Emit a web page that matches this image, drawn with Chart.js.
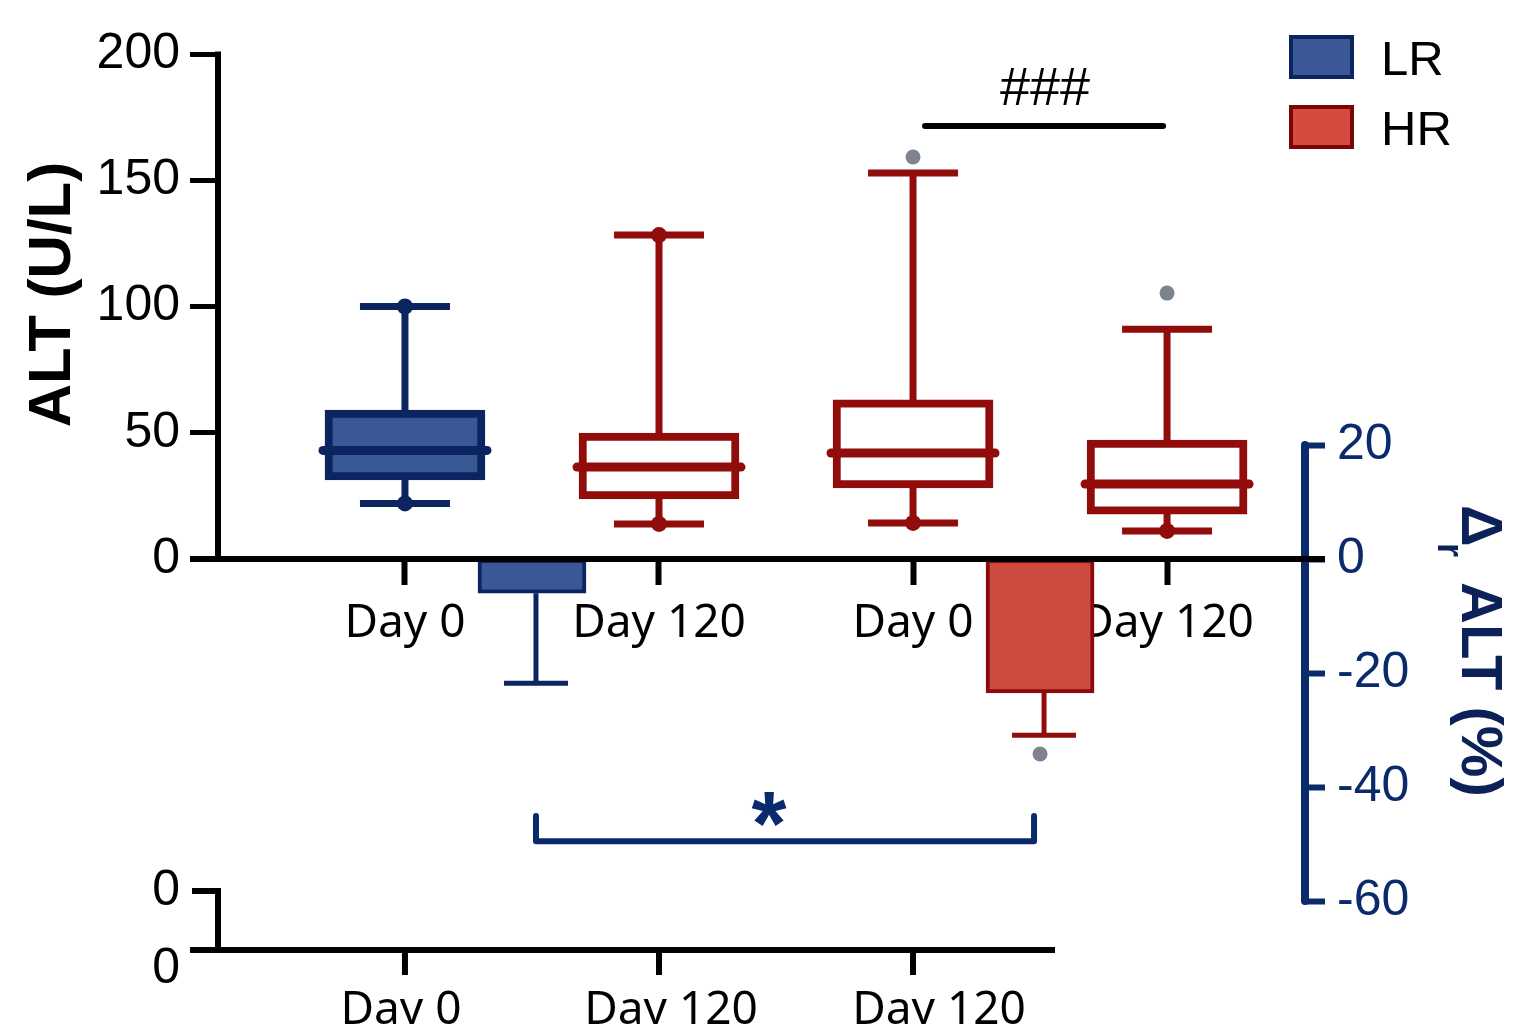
<!DOCTYPE html>
<html>
<head>
<meta charset="utf-8">
<title>ALT</title>
<script src="https://cdn.jsdelivr.net/npm/chart.js@4.4.1/dist/chart.umd.min.js"></script>
<style>
    html, body { margin: 0; padding: 0; background: #ffffff; }
    #wrap { width: 1536px; height: 1024px; }
</style>
</head>
<body>
<div id="wrap"><canvas id="alt-chart" width="1536" height="1024"></canvas></div>
<script>
// Kategori sumbu x dan kelompok tiap kotak
const dayLabels = ['Day 0', 'Day 120', 'Day 0', 'Day 120'];
const boxGroups = ['LR', 'HR', 'HR', 'HR'];

// Box plot ALT (U/L)
const boxQ1 = [31.3, 23.8, 28.1, 17.8];
const boxQ3 = [59, 49.9, 63, 47.1];
const boxMedian = [43, 36.4, 42, 29.7];
const whiskerLow = [22, 13.9, 14.3, 11.1];
const whiskerHigh = [100, 128.3, 152.9, 91];
const outlierIndex = [2, 3];
const outlierValues = [159.2, 105.3];

// Perubahan relatif ALT (%)
const deltaGroups = ['LR', 'HR'];
const deltaSlot = [0, 2];          // kotak Day 0 dari kelompoknya
const deltaMean = [-6, -23.5];
const deltaErrLow = [-21.8, -30.9];
const deltaOutlier = [-34.2];      // hanya HR

// Label tick
const leftTicks = [0, 50, 100, 150, 200];
const rightTicks = [20, 0, -20, -40, -60];
const legendLabels = ['LR', 'HR'];
const ghostYLabels = ['0', '0'];
const ghostXLabels = ['Day 0', 'Day 120', 'Day 120'];

// Tanda signifikansi
const hashLevel = 171.5;     // di sumbu kiri
const starLevel = -49.5;     // di sumbu kanan
const starTop = -45.1;

const C = {
    navy: '#0c2460',
    axisNavy: '#0b2a6b',
    lrFill: '#3a5796',
    red: '#900d0b',
    hrFill: '#cd4a41',
    legendRed: '#d64a40',
    gray: '#7e848d',
    black: '#000000'
};

const NUM_FONT = '"Liberation Sans", Arial, sans-serif';
const DAY_FONT = '"Noto Sans", "Liberation Sans", sans-serif';

function line(ctx, x1, y1, x2, y2) {
    ctx.beginPath();
    ctx.moveTo(x1, y1);
    ctx.lineTo(x2, y2);
    ctx.stroke();
}

function dot(ctx, x, y, r) {
    ctx.beginPath();
    ctx.arc(x, y, r, 0, Math.PI * 2);
    ctx.fill();
}

// Plugin untuk whisker, median, garis sumbu dan teks
const boxExtras = {
    id: 'boxExtras',
    beforeDatasetsDraw(chart) {
        const { ctx, scales: { x, yL, yR } } = chart;
        ctx.save();
        ctx.lineCap = 'butt';
        dayLabels.forEach((_, i) => {
            const cx = x.getPixelForValue(i);
            ctx.strokeStyle = boxGroups[i] === 'LR' ? C.navy : C.red;
            ctx.lineWidth = 7;
            line(ctx, cx, yL.getPixelForValue(whiskerLow[i]), cx, yL.getPixelForValue(whiskerHigh[i]));
            [whiskerLow[i], whiskerHigh[i]].forEach(v => {
                const py = yL.getPixelForValue(v);
                line(ctx, cx - 45, py, cx + 45, py);
            });
        });
        deltaMean.forEach((m, k) => {
            const cx = x.getPixelForValue(deltaSlot[k] + 0.5) + 4;
            ctx.strokeStyle = deltaGroups[k] === 'LR' ? C.navy : C.red;
            ctx.lineWidth = 5;
            const pe = yR.getPixelForValue(deltaErrLow[k]);
            line(ctx, cx, yR.getPixelForValue(m), cx, pe);
            line(ctx, cx - 32, pe, cx + 32, pe);
        });
        ctx.restore();
    },
    afterDatasetsDraw(chart) {
        const { ctx, chartArea: area, scales: { x, yL, yR } } = chart;
        ctx.save();

        // median dan titik ujung whisker
        dayLabels.forEach((_, i) => {
            const cx = x.getPixelForValue(i);
            const col = boxGroups[i] === 'LR' ? C.navy : C.red;
            const pm = yL.getPixelForValue(boxMedian[i]);
            ctx.strokeStyle = col;
            ctx.fillStyle = col;
            ctx.lineWidth = 9;
            ctx.lineCap = 'round';
            line(ctx, cx - 82, pm, cx + 82, pm);
            dot(ctx, cx, yL.getPixelForValue(whiskerLow[i]), 8);
            if (!outlierIndex.includes(i)) {
                dot(ctx, cx, yL.getPixelForValue(whiskerHigh[i]), 8);
            }
        });

        // sumbu kanan
        ctx.strokeStyle = C.axisNavy;
        ctx.lineWidth = 8;
        ctx.lineCap = 'round';
        line(ctx, area.right, yR.getPixelForValue(rightTicks[0]), area.right, yR.getPixelForValue(rightTicks[rightTicks.length - 1]));

        // sumbu x dan sumbu kiri
        const y0 = yL.getPixelForValue(0);
        ctx.strokeStyle = C.black;
        ctx.lineWidth = 6;
        ctx.lineCap = 'butt';
        line(ctx, area.left - 28, y0, area.right + 20, y0);
        line(ctx, area.left, yL.getPixelForValue(200) - 2.5, area.left, y0);

        // judul sumbu kiri
        ctx.save();
        ctx.translate(70, (yL.getPixelForValue(0) + yL.getPixelForValue(200)) / 2 - 12);
        ctx.rotate(-Math.PI / 2);
        ctx.font = 'bold 60px ' + NUM_FONT;
        ctx.textAlign = 'center';
        ctx.textBaseline = 'alphabetic';
        ctx.fillStyle = C.black;
        ctx.fillText('ALT (U/L)', 0, 0);
        ctx.restore();

        // judul sumbu kanan
        ctx.save();
        ctx.translate(1462, 505);
        ctx.rotate(Math.PI / 2);
        ctx.fillStyle = '#0c2157';
        ctx.textAlign = 'left';
        ctx.textBaseline = 'alphabetic';
        ctx.font = 'bold 58px ' + NUM_FONT;
        ctx.fillText('Δ', 0, 0);
        ctx.font = 'bold 36px ' + NUM_FONT;
        ctx.fillText('r', 38, 24);
        ctx.font = 'bold 58px ' + NUM_FONT;
        ctx.fillText('ALT (%)', 77, 0);
        ctx.restore();

        // legenda
        legendLabels.forEach((lab, k) => {
            const ly = 37 + k * 70;
            ctx.fillStyle = lab === 'LR' ? C.lrFill : C.legendRed;
            ctx.strokeStyle = lab === 'LR' ? C.navy : '#7a0606';
            ctx.lineWidth = 4;
            ctx.fillRect(1291, ly, 61, 40);
            ctx.strokeRect(1291, ly, 61, 40);
            ctx.fillStyle = C.black;
            ctx.font = '49px ' + NUM_FONT;
            ctx.textAlign = 'left';
            ctx.textBaseline = 'alphabetic';
            ctx.fillText(lab, 1381, ly + 38);
        });

        // ### antara HR Day 0 dan Day 120
        const hy = yL.getPixelForValue(hashLevel);
        ctx.strokeStyle = C.black;
        ctx.lineWidth = 6;
        ctx.lineCap = 'round';
        line(ctx, x.getPixelForValue(2) + 12, hy, x.getPixelForValue(3) - 4, hy);
        ctx.fillStyle = C.black;
        ctx.font = '54px ' + NUM_FONT;
        ctx.textAlign = 'center';
        ctx.fillText('###', (x.getPixelForValue(2) + x.getPixelForValue(3)) / 2 + 5, hy - 21);

        // bracket * antara LR dan HR
        const bx1 = x.getPixelForValue(deltaSlot[0] + 0.5) + 4;
        const bx2 = x.getPixelForValue(deltaSlot[1] + 0.5) - 6;
        const by = yR.getPixelForValue(starLevel);
        const bt = yR.getPixelForValue(starTop);
        ctx.strokeStyle = C.axisNavy;
        ctx.lineWidth = 6;
        ctx.lineJoin = 'round';
        ctx.beginPath();
        ctx.moveTo(bx1, bt);
        ctx.lineTo(bx1, by);
        ctx.lineTo(bx2, by);
        ctx.lineTo(bx2, bt);
        ctx.stroke();
        ctx.fillStyle = C.axisNavy;
        ctx.font = 'bold 90px ' + NUM_FONT;
        ctx.fillText('*', (bx1 + bx2) / 2 - 16, by + 14);

        // sumbu bayangan di bawah
        const gTop = 891, gBase = 950;
        ctx.strokeStyle = C.black;
        ctx.lineWidth = 6;
        ctx.lineCap = 'butt';
        line(ctx, area.left, gTop - 3, area.left, gBase);
        line(ctx, area.left - 26, gTop, area.left, gTop);
        line(ctx, area.left - 28, gBase, 1055, gBase);
        ctx.fillStyle = C.black;
        ctx.font = '50px ' + NUM_FONT;
        ctx.textAlign = 'right';
        ctx.textBaseline = 'middle';
        ctx.fillText(ghostYLabels[0], 180, gTop);
        ctx.fillText(ghostYLabels[1], 180, 969);
        ctx.font = '46px ' + DAY_FONT;
        ctx.textAlign = 'center';
        ctx.textBaseline = 'alphabetic';
        ghostXLabels.forEach((lab, i) => {
            const gx = x.getPixelForValue(i);
            line(ctx, gx, gBase, gx, 975);
            ctx.fillText(lab, gx + [-4, 12, 26][i], 1024);
        });

        ctx.restore();
    }
};

document.addEventListener('DOMContentLoaded', function() {
    const ctx = document.getElementById('alt-chart').getContext('2d');

    new Chart(ctx, {
        type: 'bar',
        data: {
            datasets: [
                {
                    label: 'ALT',
                    data: dayLabels.map((_, i) => ({ x: i, y: [boxQ1[i], boxQ3[i]] })),
                    xAxisID: 'x',
                    yAxisID: 'yL',
                    grouped: false,
                    barThickness: 160,
                    backgroundColor: boxGroups.map(g => g === 'LR' ? C.lrFill : '#ffffff'),
                    borderColor: boxGroups.map(g => g === 'LR' ? C.navy : C.red),
                    borderWidth: 8,
                    borderSkipped: false,
                    order: 2
                },
                {
                    label: 'Delta ALT',
                    data: deltaMean.map((m, k) => ({ x: deltaSlot[k] + 0.5, y: m })),
                    xAxisID: 'x',
                    yAxisID: 'yR',
                    grouped: false,
                    barThickness: 108,
                    backgroundColor: deltaGroups.map(g => g === 'LR' ? C.lrFill : C.hrFill),
                    borderColor: deltaGroups.map(g => g === 'LR' ? C.navy : '#8a0c0c'),
                    borderWidth: 4,
                    borderSkipped: false,
                    order: 2
                },
                {
                    type: 'scatter',
                    label: 'Outlier ALT',
                    data: outlierIndex.map((idx, k) => ({ x: idx, y: outlierValues[k] })),
                    xAxisID: 'x',
                    yAxisID: 'yL',
                    pointRadius: 7.5,
                    pointBackgroundColor: C.gray,
                    pointBorderWidth: 0,
                    order: 1
                },
                {
                    type: 'scatter',
                    label: 'Outlier Delta',
                    data: deltaOutlier.map(v => ({ x: deltaSlot[1] + 0.5, y: v })),
                    xAxisID: 'x',
                    yAxisID: 'yR',
                    pointRadius: 7.5,
                    pointBackgroundColor: C.gray,
                    pointBorderWidth: 0,
                    order: 1
                }
            ]
        },
        options: {
            responsive: false,
            devicePixelRatio: 1,
            animation: false,
            events: [],
            layout: {
                padding: { top: 54, bottom: 123, left: 0, right: 0 }
            },
            plugins: {
                legend: { display: false },
                tooltip: { enabled: false }
            },
            scales: {
                x: {
                    type: 'linear',
                    position: { yL: 0 },
                    offset: false,
                    min: -0.736,
                    max: 3.543,
                    afterFit: s => { s.height = 0; },
                    afterBuildTicks: s => { s.ticks = dayLabels.map((_, i) => ({ value: i })); },
                    border: { display: false },
                    grid: {
                        offset: false,
                        drawOnChartArea: false,
                        tickLength: 26,
                        tickWidth: 6,
                        tickColor: C.black
                    },
                    ticks: {
                        autoSkip: false,
                        maxRotation: 0,
                        padding: 11,
                        color: C.black,
                        font: { family: DAY_FONT, size: 46 },
                        callback: v => dayLabels[v]
                    }
                },
                yL: {
                    type: 'linear',
                    position: 'left',
                    min: -135.45,
                    max: 200,
                    afterFit: s => { s.width = 218; },
                    afterBuildTicks: s => { s.ticks = leftTicks.map(v => ({ value: v })); },
                    border: { display: false },
                    grid: {
                        drawOnChartArea: false,
                        tickLength: 28,
                        tickWidth: 5,
                        tickColor: C.black
                    },
                    ticks: {
                        padding: 10,
                        color: C.black,
                        font: { family: NUM_FONT, size: 50 }
                    }
                },
                yR: {
                    type: 'linear',
                    position: 'right',
                    min: -60,
                    max: 88.6,
                    afterFit: s => { s.width = 231; },
                    afterBuildTicks: s => { s.ticks = rightTicks.map(v => ({ value: v })); },
                    border: { display: false },
                    grid: {
                        drawOnChartArea: false,
                        tickLength: 20,
                        tickWidth: 6,
                        tickColor: C.axisNavy
                    },
                    ticks: {
                        padding: 12,
                        color: C.axisNavy,
                        font: { family: NUM_FONT, size: 50 }
                    }
                }
            }
        },
        plugins: [boxExtras]
    });
});
</script>
</body>
</html>
